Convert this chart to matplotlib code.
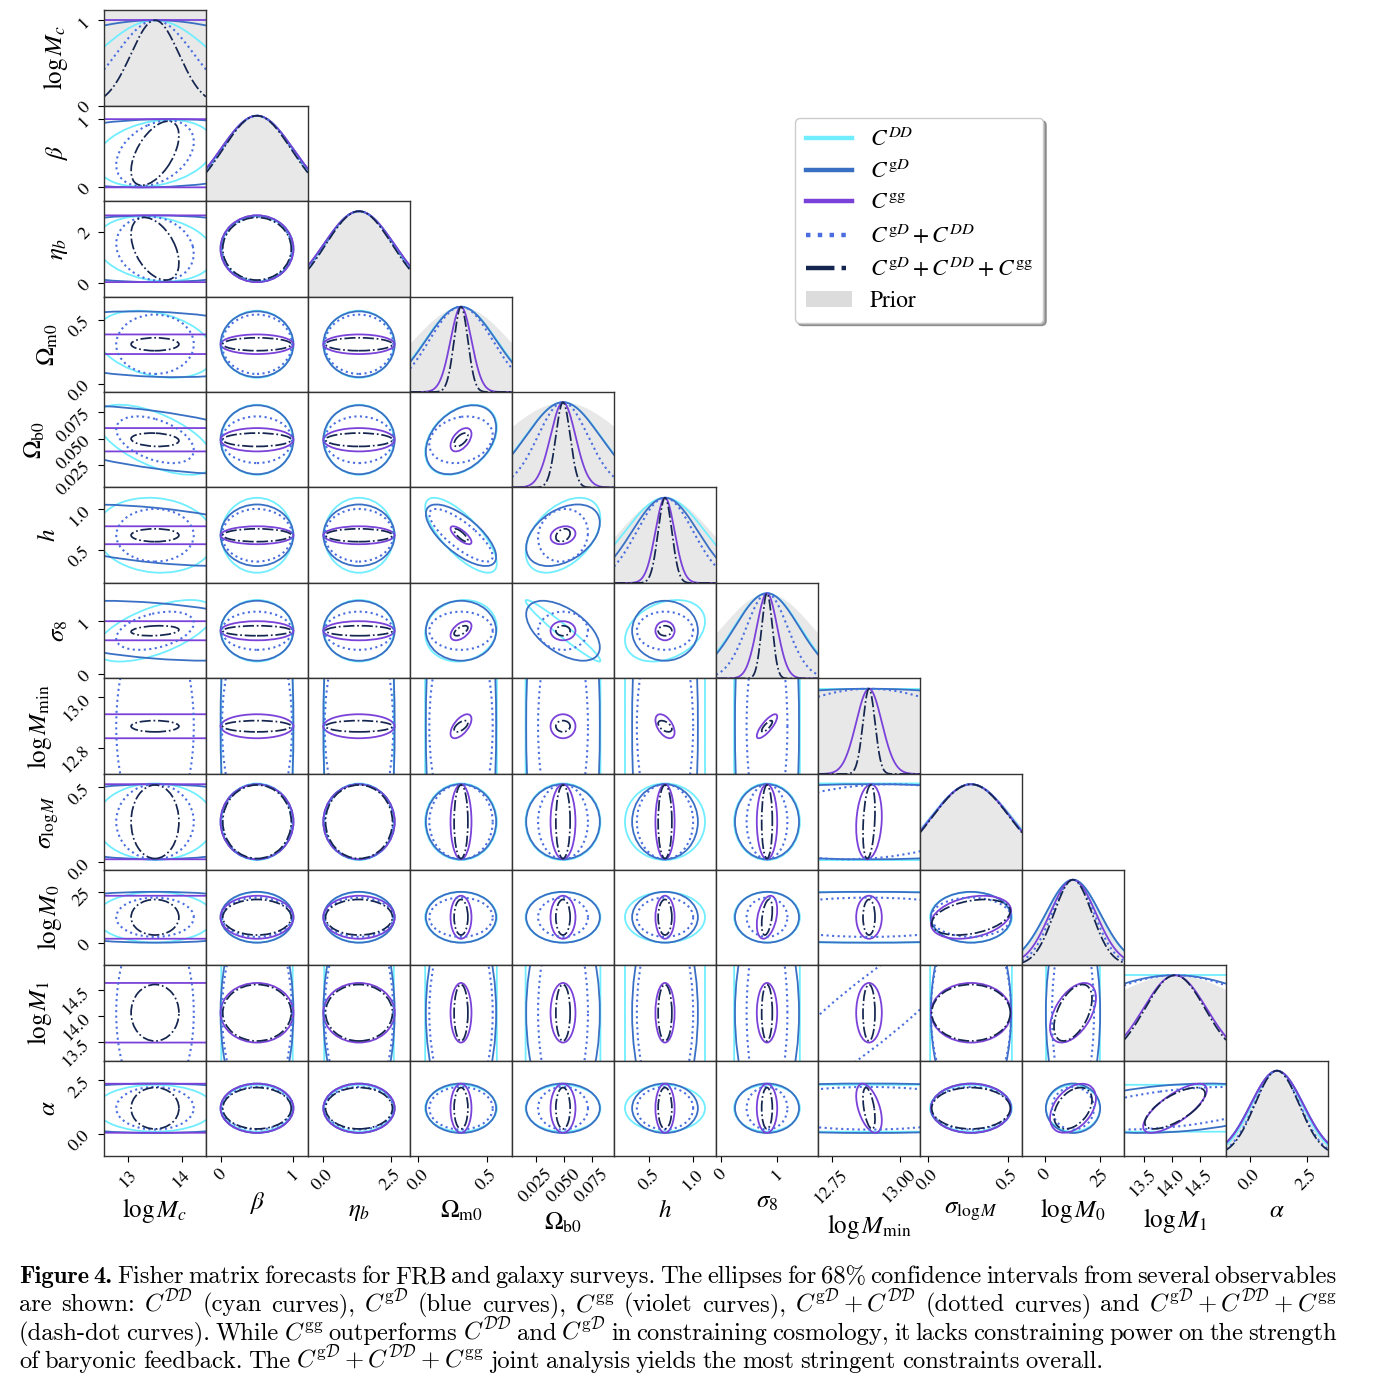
import numpy as np
import matplotlib
matplotlib.use("Agg")
from matplotlib import pyplot as plt
from matplotlib.patches import Ellipse, Patch
from matplotlib.lines import Line2D

plt.rcParams['font.family'] = 'STIXGeneral'
plt.rcParams['mathtext.fontset'] = 'stix'

labels = [r"$\log M_c$", r"$\beta$", r"$\eta_b$", r"$\Omega_{\rm m0}$", r"$\Omega_{\rm b0}$",
          r"$h$", r"$\sigma_8$", r"$\log M_{\rm min}$", r"$\sigma_{\log M}$", r"$\log M_0$",
          r"$\log M_1$", r"$\alpha$"]
fiducial = [13.5, 0.5, 1.33, 0.31, 0.049, 0.677, 0.816, 12.887, 0.27, 12.6, 14.06, 1.19]
half_range = [0.96, 0.70, 1.86, 0.37, 0.045, 0.58, 0.90, 0.187, 0.318, 23.1, 0.913, 2.24]

xticks = [[13, 14], [0, 1], [0, 2.5], [0, 0.5], [0.025, 0.05, 0.075], [0.5, 1.0], [0, 1],
          [12.75, 13.0], [0, 0.5], [0, 25], [13.5, 14.0, 14.5], [0, 2.5]]
xticklabels = [["13", "14"], ["0", "1"], ["0.0", "2.5"], ["0.0", "0.5"], ["0.025", "0.050", "0.075"],
               ["0.5", "1.0"], ["0", "1"], ["12.75", "13.00"], ["0.0", "0.5"], ["0", "25"],
               ["13.5", "14.0", "14.5"], ["0.0", "2.5"]]
yticks = [[0, 1], [0, 1], [0, 2], [0, 0.5], [0.025, 0.05, 0.075], [0.5, 1.0], [0, 1],
          [12.8, 13.0], [0, 0.5], [0, 25], [13.5, 14.0, 14.5], [0, 2.5]]
yticklabels = [["0", "1"], ["0", "1"], ["0", "2"], ["0.0", "0.5"], ["0.025", "0.050", "0.075"],
               ["0.5", "1.0"], ["0", "1"], ["12.8", "13.0"], ["0.0", "0.5"], ["0", "25"],
               ["13.5", "14.0", "14.5"], ["0.0", "2.5"]]

# marginal 1-sigma errors (100 = unconstrained)
prior_sigma = [np.inf, 0.50, 1.30, 0.35, 0.055, 0.52, 0.80, 0.90, 0.27, 12.5, 1.5, 1.15]
sig_DD = [1.11, 0.49, 1.27, 0.26, 0.033, 0.455, 0.58, 100, 0.255, 12.2, 100, 1.10]
sig_gD = [2.70, 0.50, 1.30, 0.255, 0.0325, 0.374, 0.565, 0.93, 0.25, 12.3, 2.0, 1.16]
sig_gg = [100, 0.50, 1.30, 0.076, 0.011, 0.109, 0.18, 0.047, 0.25, 10.4, 0.57, 1.15]
sig_gDDD = [0.73, 0.48, 1.25, 0.23, 0.022, 0.32, 0.36, 0.42, 0.25, 9.5, 1.8, 1.0]
sig_all = [0.45, 0.47, 1.22, 0.05, 0.0063, 0.078, 0.094, 0.022, 0.245, 8.6, 0.54, 0.97]

# correlation coefficients (row, column)
corr_DD = {(1, 0): 0.25, (2, 0): -0.2, (3, 0): -0.3, (4, 0): -0.6, (5, 0): -0.1, (6, 0): 0.6,
           (4, 3): 0.35, (5, 3): -0.75, (5, 4): 0.45, (6, 3): 0.1, (6, 4): -0.97, (6, 5): 0.3}
corr_gD = {(1, 0): 0.1, (3, 0): -0.15, (4, 0): -0.55, (5, 0): -0.45, (6, 0): -0.37,
           (4, 3): 0.35, (5, 3): -0.7, (5, 4): 0.4, (6, 4): -0.55, (11, 10): 0.3}
corr_gg = {(4, 3): 0.5, (5, 3): -0.75, (5, 4): 0.2, (6, 3): 0.5, (7, 3): 0.6, (7, 6): 0.8,
           (7, 5): -0.5, (8, 7): 0.15, (9, 6): 0.35, (9, 8): 0.3, (10, 9): 0.5, (11, 10): 0.75,
           (11, 9): 0.4, (11, 7): -0.5}
corr_gDDD = {(1, 0): 0.35, (2, 0): -0.15, (4, 0): -0.45, (6, 0): 0.4, (4, 3): 0.2, (5, 3): -0.8,
             (5, 4): 0.1, (10, 7): 0.91, (8, 7): 0.2, (11, 10): 0.5}
corr_all = {(1, 0): 0.55, (2, 0): -0.45, (4, 0): -0.15, (6, 0): 0.2, (4, 3): 0.6, (5, 3): -0.8,
            (5, 4): 0.3, (6, 3): 0.6, (7, 3): 0.6, (7, 6): 0.8, (7, 5): -0.5, (8, 7): 0.3,
            (9, 8): 0.35, (9, 6): 0.4, (10, 9): 0.5, (11, 10): 0.7, (11, 9): 0.4, (11, 7): -0.5}

legend_labels = [r"$C^{DD}$", r"$C^{\mathrm{g}D}$", r"$C^{\mathrm{gg}}$",
                 r"$C^{\mathrm{g}D}+C^{DD}$", r"$C^{\mathrm{g}D}+C^{DD}+C^{\mathrm{gg}}$", "Prior"]

caption = [
    r"Figure 4. Fisher matrix forecasts for FRB and galaxy surveys. The ellipses for 68% confidence intervals from several observables",
    r"are shown: $C^{\mathcal{DD}}$ (cyan curves), $C^{\mathrm{g}\mathcal{D}}$ (blue curves), $C^{\mathrm{gg}}$ (violet curves), $C^{\mathrm{g}\mathcal{D}}+C^{\mathcal{DD}}$ (dotted curves) and $C^{\mathrm{g}\mathcal{D}}+C^{\mathcal{DD}}+C^{\mathrm{gg}}$",
    r"(dash-dot curves). While $C^{\mathrm{gg}}$ outperforms $C^{\mathcal{DD}}$ and $C^{\mathrm{g}\mathcal{D}}$ in constraining cosmology, it lacks constraining power on the strength",
    r"of baryonic feedback. The $C^{\mathrm{g}\mathcal{D}}+C^{\mathcal{DD}}+C^{\mathrm{gg}}$ joint analysis yields the most stringent constraints overall.",
]

prior_color = "#e8e8e8"
styles = [
    (sig_DD, corr_DD, dict(color="#70eeff", ls="-", lw=1.3)),
    (sig_gD, corr_gD, dict(color="#3a70c4", ls="-", lw=1.3)),
    (sig_gg, corr_gg, dict(color="#7b42d9", ls="-", lw=1.3)),
    (sig_gDDD, corr_gDDD, dict(color="#4a6ee0", ls=":", lw=1.5)),
    (sig_all, corr_all, dict(color="#14254f", ls="-.", lw=1.25)),
]

n = len(labels)
fig, axes = plt.subplots(n, n, figsize=(13.8, 13.83), dpi=100)
fig.subplots_adjust(left=104 / 1380, right=1328 / 1380, top=1 - 10 / 1383,
                    bottom=1 - 1156 / 1383, wspace=0, hspace=0)

for i in range(n):
    for j in range(n):
        ax = axes[i, j]
        if j > i:
            ax.axis("off")
            continue
        lo, hi = fiducial[j] - half_range[j], fiducial[j] + half_range[j]
        ax.set_xlim(lo, hi)
        if i == j:
            x = np.linspace(lo, hi, 400)
            if np.isfinite(prior_sigma[j]):
                ax.fill_between(x, 0, np.exp(-0.5 * ((x - fiducial[j]) / prior_sigma[j]) ** 2),
                                color=prior_color, lw=0)
            else:
                ax.fill_between(x, 0, 2, color=prior_color, lw=0)
            for sig, corr, st in styles:
                ax.plot(x, np.exp(-0.5 * ((x - fiducial[j]) / sig[j]) ** 2), **st)
            ax.set_ylim(0, 1.12)
        else:
            ax.set_ylim(fiducial[i] - half_range[i], fiducial[i] + half_range[i])
            for sig, corr, st in styles:
                r = corr.get((i, j), 0.0)
                cov = np.array([[sig[j] ** 2, r * sig[i] * sig[j]],
                                [r * sig[i] * sig[j], sig[i] ** 2]])
                vals, vecs = np.linalg.eigh(cov)
                ang = np.degrees(np.arctan2(vecs[1, 1], vecs[0, 1]))
                ax.add_patch(Ellipse((fiducial[j], fiducial[i]), 2 * np.sqrt(vals[1]),
                                     2 * np.sqrt(vals[0]), angle=ang, fill=False,
                                     edgecolor=st["color"], ls=st["ls"], lw=st["lw"]))
        for s in ax.spines.values():
            s.set_color("#333333")
            s.set_linewidth(1.0)
        ax.tick_params(direction="out", length=4, labelsize=13)
        if i == n - 1:
            ax.set_xticks(xticks[j])
            ax.set_xticklabels(xticklabels[j], rotation=45)
            ax.set_xlabel(labels[j], fontsize=18)
        else:
            ax.set_xticks([])
        if j == 0:
            ax.set_yticks(yticks[i])
            ax.set_yticklabels(yticklabels[i], rotation=45)
            ax.set_ylabel(labels[i], fontsize=18)
        else:
            ax.set_yticks([])

handles = [Line2D([], [], color=st["color"], ls=st["ls"], lw=3.2) for _, _, st in styles]
handles.append(Patch(facecolor="#dcdcdc", edgecolor="none"))
fig.legend(handles, legend_labels, loc="upper left", bbox_to_anchor=(795 / 1380, 1 - 118 / 1383),
           borderaxespad=0, fontsize=16.8, frameon=True, fancybox=True, shadow=True,
           handlelength=2.0, handletextpad=0.75, labelspacing=0.42, borderpad=0.45,
           edgecolor="#cccccc")

# caption, justified word by word
renderer = fig.canvas.get_renderer()
fw = fig.bbox.width
x0, x1 = 19 / fw, 1337 / fw
for k, line in enumerate(caption):
    y = 1 - (1283 + 28.3 * k) / 1383
    words = line.split(" ")
    arts = []
    for w in words:
        fam = "cmb10" if (k == 0 and w in ("Figure", "4.")) else "cmr10"
        arts.append(fig.text(0, y, w, fontsize=17.7, family=fam, math_fontfamily="cm",
                             va="baseline", ha="left"))
    widths = [a.get_window_extent(renderer).width / fw for a in arts]
    natural = 6.0 / fw
    if k < len(caption) - 1:
        gap = max((x1 - x0 - sum(widths)) / (len(words) - 1), 2.0 / fw)
    else:
        gap = natural
    pos = x0
    for a, w in zip(arts, widths):
        a.set_x(pos)
        pos += w + gap

fig.savefig("out.png", dpi=100)
